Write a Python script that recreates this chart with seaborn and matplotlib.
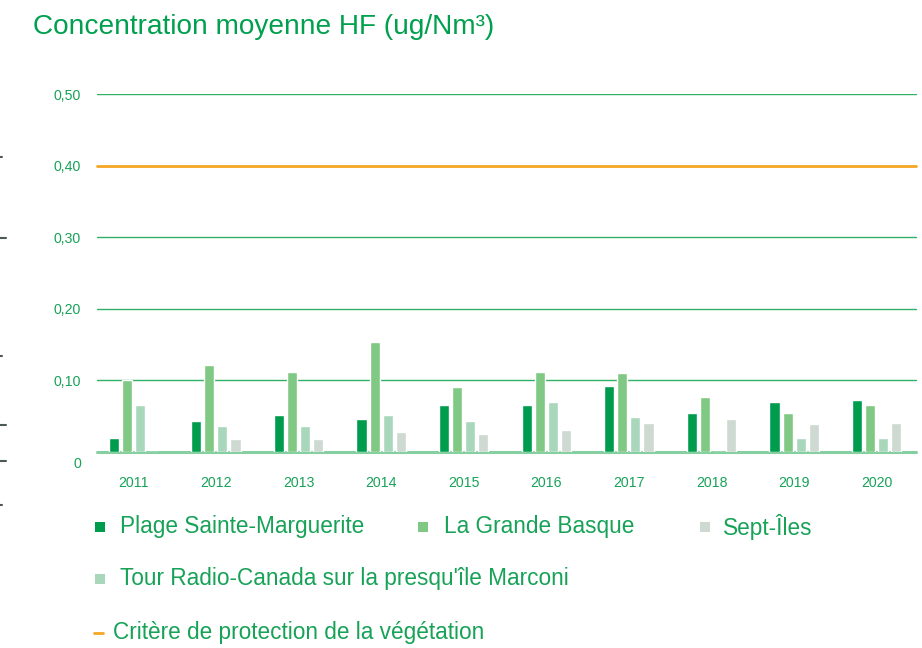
import matplotlib
matplotlib.use("Agg")
import matplotlib.pyplot as plt
import matplotlib.transforms as mtransforms
from matplotlib.patches import Rectangle
from matplotlib.lines import Line2D
import seaborn as sns
import pandas as pd

# ---- data ----
years = ["2011", "2012", "2013", "2014", "2015", "2016", "2017", "2018", "2019", "2020"]
plage_sainte_marguerite = [0.020, 0.043, 0.052, 0.046, 0.065, 0.065, 0.092, 0.055, 0.070, 0.073]
la_grande_basque = [0.100, 0.122, 0.112, 0.153, 0.091, 0.112, 0.110, 0.077, 0.055, 0.065]
tour_radio_canada = [0.065, 0.036, 0.036, 0.052, 0.043, 0.070, 0.049, 0.0, 0.020, 0.020]
sept_iles = [0.0, 0.018, 0.018, 0.028, 0.025, 0.031, 0.041, 0.046, 0.039, 0.041]
critere = 0.40
y_ticks = [0, 0.1, 0.2, 0.3, 0.4, 0.5]
y_tick_labels = ["0", "0,10", "0,20", "0,30", "0,40", "0,50"]

names = {
    "plage": "Plage Sainte-Marguerite",
    "basque": "La Grande Basque",
    "sept": "Sept-Îles",
    "tour": "Tour Radio-Canada sur la presqu'île Marconi",
}
title = "Concentration moyenne HF (ug/Nm³)"
critere_label = "Critère de protection de la végétation"

colors = {
    "plage": "#009c4e",
    "basque": "#80c985",
    "tour": "#a8d7bc",
    "sept": "#cdd9d1",
}
text_green = "#17a257"
grid_green = "#2fb065"
orange = "#f5a623"

rows = []
for key, vals in [("plage", plage_sainte_marguerite), ("basque", la_grande_basque),
                  ("tour", tour_radio_canada), ("sept", sept_iles)]:
    for y, v in zip(years, vals):
        rows.append({"year": y, "value": v, "site": names[key]})
df = pd.DataFrame(rows)
hue_order = [names["plage"], names["basque"], names["tour"], names["sept"]]
palette = [colors["plage"], colors["basque"], colors["tour"], colors["sept"]]

sns.set_style("white")
plt.rcParams["font.family"] = ["Liberation Sans", "DejaVu Sans"]

W, H = 922, 648
fig = plt.figure(figsize=(W / 100, H / 100), dpi=100)
ax_l, ax_r = 92, 918
ax = fig.add_axes([ax_l / W, 1 - 452 / H, (ax_r - ax_l) / W, (452 - 94) / H])

ax.set_ylim(0, 0.5)
ax.set_yticks(y_ticks)
ax.set_yticklabels(y_tick_labels)
gx0 = (97 - ax_l) / (ax_r - ax_l)
gx1 = (916 - ax_l) / (ax_r - ax_l)
for yv in y_ticks:
    if yv in (0, critere):
        continue
    ax.axhline(yv, xmin=gx0, xmax=gx1, color=grid_green, lw=1.0, zorder=0.5)
ax.axhline(0, xmin=gx0, xmax=gx1, color="#86cfa0", lw=2.2, zorder=1, clip_on=False)

sns.barplot(data=df, x="year", y="value", hue="site", hue_order=hue_order,
            palette=palette, width=0.634, gap=0.23, saturation=1,
            errorbar=None, legend=False, ax=ax, zorder=2)

ax.axhline(critere, xmin=gx0, xmax=gx1, color=orange, lw=2.0, zorder=3)
ax.set_xlim(-0.5, len(years) - 0.5)
ax.set_ylim(0, 0.5)

for s in ax.spines.values():
    s.set_visible(False)
ax.set_xlabel("")
ax.set_ylabel("")
ax.tick_params(axis="y", length=0, pad=8, labelsize=10.2, labelcolor=text_green)
ax.tick_params(axis="x", length=0, pad=17, labelsize=10.2, labelcolor=text_green)
# "0" label sits a bit lower than the baseline
lbl0 = ax.get_yticklabels()[0]
lbl0.set_transform(lbl0.get_transform() +
                   mtransforms.ScaledTranslation(0, -10 / 100, fig.dpi_scale_trans))

# title
fig.text(33 / W, 1 - 27 / H, title, fontsize=20.2, color="#00a04f",
         ha="left", va="center")

# legend (manual layout)
def px(x, y):
    return x / W, 1 - y / H

def square(x, y, c):
    fig.add_artist(Rectangle(px(x - 5, y + 5), 10 / W, 10 / H,
                             transform=fig.transFigure, color=c, lw=0))

leg_fs = 16.3
entries = [
    (100, 527, colors["plage"], names["plage"], 120),
    (423, 527, colors["basque"], names["basque"], 444),
    (705, 527, colors["sept"], names["sept"], 723),
    (100, 579, colors["tour"], names["tour"], 120),
]
for sx, sy, c, label, tx in entries:
    square(sx, sy, c)
    fig.text(*px(tx, sy), label, fontsize=leg_fs, color=text_green, ha="left", va="center")

x0, y0 = px(94, 633)
x1, _ = px(103, 633)
fig.add_artist(Line2D([x0, x1], [y0, y0], transform=fig.transFigure, color=orange, lw=2))
fig.text(*px(113, 633), critere_label, fontsize=leg_fs, color=text_green, ha="left", va="center")

# small marks on the left edge of the page
for yy, ww in [(157, 2), (238, 6), (356, 2), (425, 6), (461, 6), (505, 2)]:
    xa, ya = px(0, yy)
    xb, _ = px(ww, yy)
    fig.add_artist(Line2D([xa, xb], [ya, ya], transform=fig.transFigure,
                          color="#4d5a52", lw=1.5))

fig.savefig("out.png", dpi=100)
